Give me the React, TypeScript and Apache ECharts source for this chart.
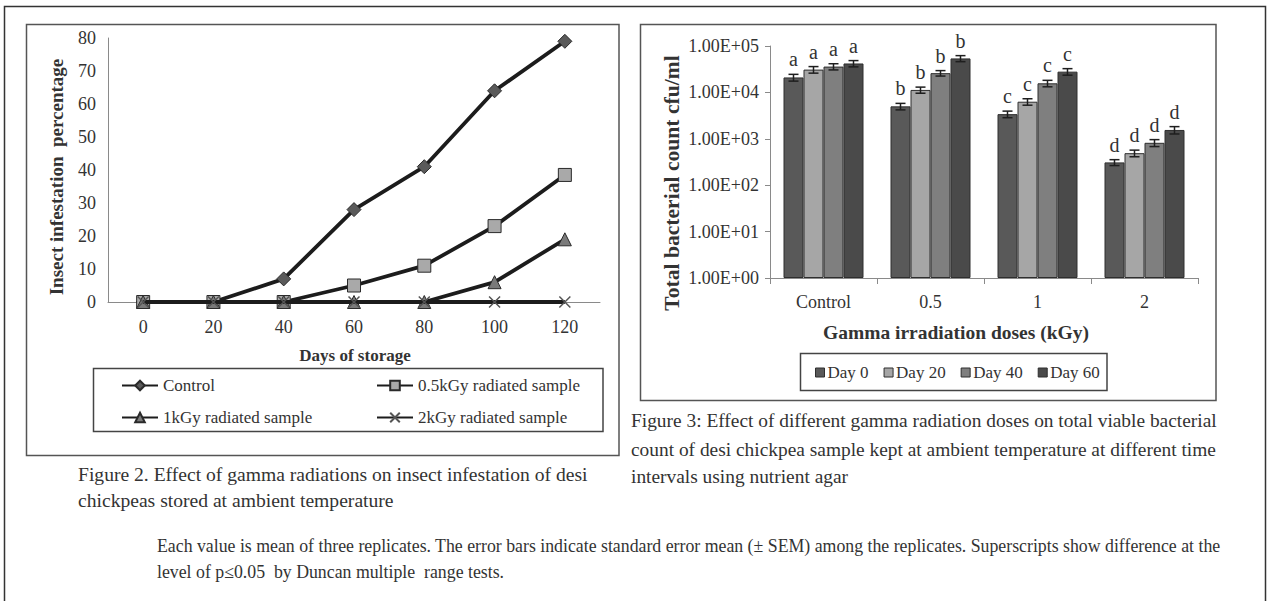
import React, { useEffect, useRef } from 'react';
import * as echarts from 'echarts';

// ---------- Figure 2 data ----------
const days = ['0', '20', '40', '60', '80', '100', '120'];
const controlPct = [0, 0, 7, 28, 41, 64, 79];
const kGy05Pct = [0, 0, 0, 5, 11, 23, 38.5];
const kGy1Pct = [0, 0, 0, 0, 0, 6, 19];
const kGy2Pct = [0, 0, 0, 0, 0, 0, 0];
const lineNames = ['Control', '0.5kGy radiated sample', '1kGy radiated sample', '2kGy radiated sample'];
const pctTicks = [0, 10, 20, 30, 40, 50, 60, 70, 80];

// ---------- Figure 3 data ----------
const doses = ['Control', '0.5', '1', '2'];
const dayNames = ['Day 0', 'Day 20', 'Day 40', 'Day 60'];
const day0 = [21000, 5000, 3400, 310];
const day20 = [31000, 11300, 6300, 490];
const day40 = [36000, 26000, 15700, 820];
const day60 = [42000, 54000, 28000, 1550];
const sem0 = [3500, 800, 550, 45];
const sem20 = [5000, 1700, 1000, 80];
const sem40 = [5500, 3500, 2500, 140];
const sem60 = [6500, 8000, 4500, 280];
const groupLetters = ['a', 'b', 'c', 'd'];
const logTickLabels = ['1.00E+00', '1.00E+01', '1.00E+02', '1.00E+03', '1.00E+04', '1.00E+05'];

const barColors = ['#595959', '#a6a6a6', '#7f7f7f', '#4a4a4a'];
const FONT = 'Liberation Serif';
const TXT = '#333';

export default function App() {
  const ref = useRef<HTMLDivElement>(null);
  useEffect(() => {
    if (!ref.current) return;
    const chart = echarts.init(ref.current, undefined, { renderer: 'svg' });
    const barVals = [day0, day20, day40, day60];
    const semVals = [sem0, sem20, sem40, sem60];

    const lineSeries = [
      { name: lineNames[0], data: controlPct, symbol: 'diamond', symbolSize: 14, fill: '#5a5a5a' },
      { name: lineNames[1], data: kGy05Pct, symbol: 'rect', symbolSize: 13, fill: '#a9a9a9' },
      { name: lineNames[2], data: kGy1Pct, symbol: 'triangle', symbolSize: 13, fill: '#7a7a7a' },
      { name: lineNames[3], data: kGy2Pct, symbol: 'path://M0,0L10,10M10,0L0,10', symbolSize: 11, fill: '#555' },
    ].map((s, i) => ({
      type: 'line',
      name: s.name,
      xAxisIndex: 0,
      yAxisIndex: 0,
      data: s.data,
      symbol: s.symbol,
      symbolSize: s.symbolSize,
      showAllSymbol: true,
      lineStyle: { color: '#1c1c1c', width: 3.8 },
      itemStyle: { color: s.fill, borderColor: i === 3 ? '#555' : '#2a2a2a', borderWidth: i === 3 ? 1.5 : 1 },
      z: 2 + i,
    }));

    const barSeries = dayNames.map((n, d) => ({
      type: 'bar',
      name: n,
      xAxisIndex: 1,
      yAxisIndex: 1,
      data: barVals[d],
      barWidth: 20,
      barGap: '0%',
      itemStyle: { color: barColors[d], borderColor: '#2e2e2e', borderWidth: 1 },
    }));

    const errSeries = dayNames.map((n, d) => ({
      type: 'custom',
      name: n + ' err',
      xAxisIndex: 1,
      yAxisIndex: 1,
      clip: false,
      z: 10,
      data: barVals[d].map((v, ci) => [ci, v, semVals[d][ci]]),
      renderItem: (params: any, api: any) => {
        const ci = api.value(0);
        const v = api.value(1);
        const e = api.value(2);
        const off = (d - 1.5) * 20;
        const x = api.coord([ci, v])[0] + off;
        const yTop = api.coord([ci, v + e])[1];
        const yBot = api.coord([ci, Math.max(v - e, 1)])[1];
        const st = { stroke: '#1e1e1e', lineWidth: 1.5 };
        return {
          type: 'group',
          children: [
            { type: 'line', shape: { x1: x, y1: yTop, x2: x, y2: yBot }, style: st },
            { type: 'line', shape: { x1: x - 5, y1: yTop, x2: x + 5, y2: yTop }, style: st },
            { type: 'line', shape: { x1: x - 5, y1: yBot, x2: x + 5, y2: yBot }, style: st },
            {
              type: 'text',
              x,
              y: yTop - 5,
              style: {
                text: groupLetters[ci],
                fontFamily: FONT,
                fontSize: 20,
                fill: TXT,
                align: 'center',
                verticalAlign: 'bottom',
              },
            },
          ],
        };
      },
    }));

    const txt = (text: string, x: number, y: number, size: number, extra: any = {}) => ({
      type: 'text',
      x,
      y,
      style: { text, fontFamily: FONT, fontSize: size, fill: TXT, verticalAlign: 'middle', ...extra },
    });

    const legendText = { color: TXT, fontFamily: FONT, fontSize: 17 };

    const option: any = {
      animation: false,
      backgroundColor: '#fff',
      textStyle: { fontFamily: FONT },
      grid: [
        { left: 108, top: 38, width: 492, height: 264 },
        { left: 770, top: 46, width: 428, height: 232 },
      ],
      xAxis: [
        {
          gridIndex: 0,
          type: 'category',
          data: days,
          boundaryGap: true,
          axisLine: { lineStyle: { color: '#8a8a8a', width: 1 } },
          axisTick: { show: false },
          axisLabel: { color: TXT, fontFamily: FONT, fontSize: 18, margin: 16 },
        },
        {
          gridIndex: 1,
          type: 'category',
          data: doses,
          boundaryGap: true,
          axisLine: { lineStyle: { color: '#8a8a8a', width: 1 } },
          axisTick: { show: true, length: 6, lineStyle: { color: '#8a8a8a' } },
          axisLabel: { color: TXT, fontFamily: FONT, fontSize: 18, margin: 15 },
        },
      ],
      yAxis: [
        {
          gridIndex: 0,
          type: 'value',
          min: pctTicks[0],
          max: pctTicks[pctTicks.length - 1],
          interval: 10,
          axisLine: { show: true, lineStyle: { color: '#8a8a8a', width: 1 } },
          axisTick: { show: false },
          splitLine: { show: false },
          axisLabel: { color: TXT, fontFamily: FONT, fontSize: 18, margin: 12 },
        },
        {
          gridIndex: 1,
          type: 'log',
          logBase: 10,
          min: 1,
          max: 100000,
          axisLine: { show: true, lineStyle: { color: '#8a8a8a', width: 1 } },
          axisTick: { show: true, length: 5, lineStyle: { color: '#8a8a8a' } },
          splitLine: { show: false },
          axisLabel: {
            color: TXT,
            fontFamily: FONT,
            fontSize: 18,
            margin: 11,
            formatter: (val: number) => logTickLabels[Math.round(Math.log10(val))],
          },
        },
      ],
      legend: [
        {
          data: [lineNames[0], lineNames[2]],
          orient: 'vertical',
          left: 121,
          top: 377,
          padding: 0,
          itemGap: 15,
          itemWidth: 36,
          itemHeight: 12,
          textStyle: legendText,
        },
        {
          data: [lineNames[1], lineNames[3]],
          orient: 'vertical',
          left: 376,
          top: 377,
          padding: 0,
          itemGap: 15,
          itemWidth: 36,
          itemHeight: 12,
          textStyle: legendText,
        },
        {
          data: dayNames,
          orient: 'horizontal',
          left: 815,
          top: 364,
          padding: 0,
          itemGap: 15,
          itemWidth: 9,
          itemHeight: 9,
          icon: 'rect',
          itemStyle: { borderColor: '#2e2e2e', borderWidth: 1 },
          textStyle: { ...legendText, padding: [0, 0, 0, -2] },
        },
      ],
      graphic: [
        // outer frame
        { type: 'polyline', shape: { points: [[4.5, 610], [4.5, 6.5], [1265.5, 6.5], [1265.5, 610]] }, style: { stroke: '#333', lineWidth: 1.5, fill: 'none' } },
        // chart boxes
        { type: 'rect', shape: { x: 26.5, y: 24.5, width: 592.5, height: 431 }, style: { stroke: '#555', lineWidth: 1.5, fill: 'none' } },
        { type: 'rect', shape: { x: 640.5, y: 24.5, width: 575.5, height: 376 }, style: { stroke: '#555', lineWidth: 1.5, fill: 'none' } },
        // legend boxes
        { type: 'rect', shape: { x: 93.5, y: 368.5, width: 509.5, height: 63 }, style: { stroke: '#444', lineWidth: 1.5, fill: 'none' } },
        { type: 'rect', shape: { x: 800.5, y: 353.5, width: 306.5, height: 37 }, style: { stroke: '#444', lineWidth: 1.5, fill: 'none' } },
        // axis titles
        { ...txt('Insect infestation  percentage', 56, 177, 19, { fontWeight: 'bold', align: 'center' }), rotation: Math.PI / 2 },
        txt('Days of storage', 355, 355, 17, { fontWeight: 'bold', align: 'center' }),
        { ...txt('Total bacterial count cfu/ml', 672, 183, 21.6, { fontWeight: 'bold', align: 'center' }), rotation: Math.PI / 2 },
        txt('Gamma irradiation doses (kGy)', 956, 332, 19.5, { fontWeight: 'bold', align: 'center' }),
        // captions
        txt('Figure 2. Effect of gamma radiations on insect infestation of desi', 78, 474, 19.6),
        txt('chickpeas stored at ambient temperature', 78, 500, 19.6),
        txt('Figure 3: Effect of different gamma radiation doses on total viable bacterial', 631, 420, 19.4),
        txt('count of desi chickpea sample kept at ambient temperature at different time', 631, 449, 19.4),
        txt('intervals using nutrient agar', 631, 476, 19.4),
        txt('Each value is mean of three replicates. The error bars indicate standard error mean (\u00B1 SEM) among the replicates. Superscripts show difference at the', 157, 546, 17.8),
        txt('level of p\u22640.05  by Duncan multiple  range tests.', 157, 572, 17.8),
      ],
      series: [...lineSeries, ...barSeries, ...errSeries],
    };
    chart.setOption(option);
    return () => chart.dispose();
  }, []);
  return <div ref={ref} style={{ position: 'fixed', left: 0, top: 0, width: 1267, height: 601, background: '#fff' }} />;
}
